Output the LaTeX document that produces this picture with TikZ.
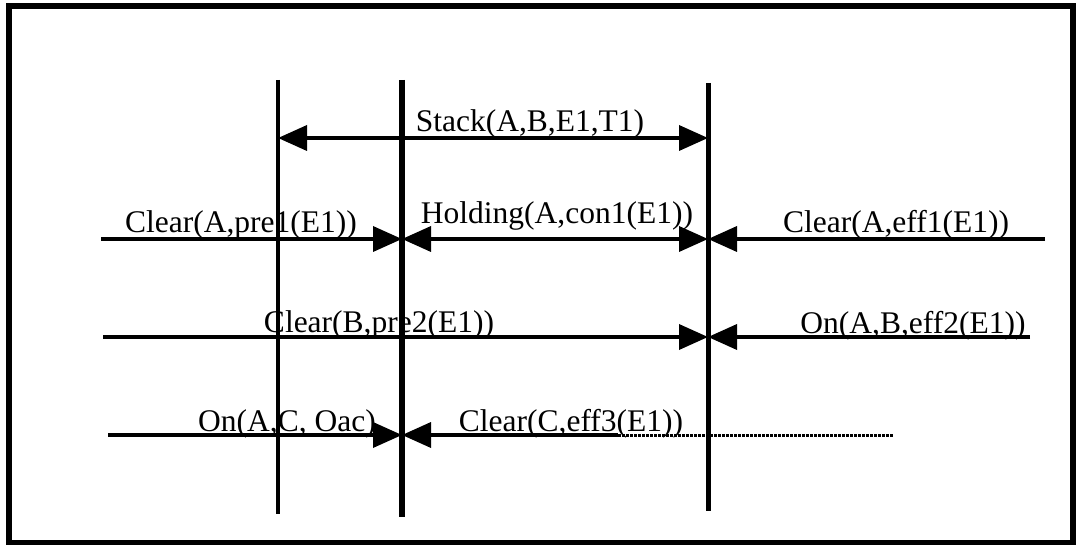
\documentclass[tikz,border=0pt]{standalone}
\usepackage{fontspec}
\setmainfont{Liberation Serif}
\usetikzlibrary{arrows.meta}
\begin{document}
\begin{tikzpicture}[x={(1pt,0)},y={(0,-1pt)},
  lbl/.style={anchor=base,inner sep=0pt,font=\fontsize{31.5}{36}\selectfont},
  vline/.style={line width=4.5pt},
  hline/.style={line width=3.6pt},
  tipR/.style={-{Triangle[length=29pt,width=25pt]}},
  tipLR/.style={{Triangle[length=29pt,width=25pt]}-{Triangle[length=29pt,width=25pt]}},
  frame/.style={line width=6pt}]
\useasboundingbox (0,0) rectangle (1076,545);
\draw[frame] (9,6.5) rectangle (1072.5,542.5);
% vertical time lines
\coordinate (v1t) at (278,80);  \coordinate (v1b) at (278,514);
\coordinate (v2t) at (402,80);  \coordinate (v2b) at (402,517);
\coordinate (v3t) at (708,83);  \coordinate (v3b) at (708,511);
\draw[vline,line width=3.8pt] (v1t) -- (v1b);
\draw[vline,line width=5.5pt] (v2t) -- (v2b);
\draw[vline,line width=5pt] (v3t) -- (v3b);
% intersection points
\coordinate (s1) at (278,138); \coordinate (s3) at (708,138);
\coordinate (a2) at (402,239); \coordinate (a3) at (708,239);
\coordinate (aL) at (101,239); \coordinate (aR) at (1045,239);
\coordinate (b3) at (708,337);
\coordinate (bL) at (103,337); \coordinate (bR) at (1030,337);
\coordinate (c2) at (402,435);
\coordinate (cL) at (108,435); \coordinate (cM) at (618,435); \coordinate (cR) at (894,435);
% arrows
\draw[hline,tipLR] (s1) -- (s3);
\draw[hline,tipR] (aL) -- (a2);
\draw[hline,tipLR] (a2) -- (a3);
\draw[hline,tipR] (aR) -- (a3);
\draw[hline,tipR] (bL) -- (b3);
\draw[hline,tipR] (bR) -- (b3);
\draw[hline,tipR] (cL) -- (c2);
\draw[hline,tipR] (cM) -- (c2);
\draw[line width=3pt,densely dotted] (cM) -- (cR);
% labels
\node[lbl] (lstack) at (530,132) {Stack(A,B,E1,T1)};
\node[lbl] (lc1) at (241,233) {Clear(A,pre1(E1))};
\node[lbl] (lh) at (557,224) {Holding(A,con1(E1))};
\node[lbl] (le1) at (896,233) {Clear(A,eff1(E1))};
\node[lbl] (lc2) at (379,332) {Clear(B,pre2(E1))};
\node[lbl] (le2) at (913,333) {On(A,B,eff2(E1))};
\node[lbl] (lon) at (287,431) {On(A,C, Oac)};
\node[lbl] (le3) at (571,431) {Clear(C,eff3(E1))};
\end{tikzpicture}
\end{document}
